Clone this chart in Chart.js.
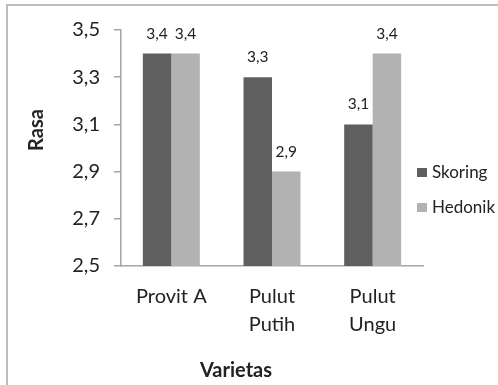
<!DOCTYPE html>
<html>
<head>
<meta charset="utf-8">
<script src="https://cdn.jsdelivr.net/npm/chart.js@4"></script>
<style>
html,body{margin:0;padding:0;background:#fff;}
#wrap{position:relative;width:498px;height:385px;}
</style>
</head>
<body>
<div id="wrap"><canvas id="c" width="498" height="385"></canvas></div>
<script>
const categories = [["Provit A"], ["Pulut", "Putih"], ["Pulut", "Ungu"]];
const seriesNames = ["Skoring", "Hedonik"];
const skoring = [3.4, 3.3, 3.1];
const hedonik = [3.4, 2.9, 3.4];
const yTickLabels = ["2,5", "2,7", "2,9", "3,1", "3,3", "3,5"];
const yTitle = "Rasa";
const xTitle = "Varietas";

const colors = ["#5f5f5f", "#b2b2b2"];
const textColor = "#222222";
const axisColor = "#a6a6a6";
const FONT = "Lato, 'Open Sans', sans-serif";

const extras = {
  id: "extras",
  afterDatasetsDraw(chart) {
    const ctx = chart.ctx;
    ctx.save();
    ctx.fillStyle = textColor;
    ctx.font = "15.5px " + FONT;
    ctx.textAlign = "center";
    ctx.textBaseline = "middle";
    chart.data.datasets.forEach((ds, di) => {
      const meta = chart.getDatasetMeta(di);
      meta.data.forEach((bar, i) => {
        ctx.fillText(String(ds.data[i]).replace(".", ","), bar.x, bar.y - 20);
      });
    });
    ctx.restore();
  },
  afterDraw(chart) {
    const ctx = chart.ctx;
    ctx.save();
    ctx.strokeStyle = "#bdbdbd";
    ctx.lineWidth = 2;
    ctx.beginPath();
    ctx.moveTo(7, 386);
    ctx.lineTo(7, 5);
    ctx.lineTo(499, 5);
    ctx.stroke();
    ctx.fillStyle = textColor;
    ctx.font = "bold 20px " + FONT;
    ctx.textAlign = "center";
    ctx.textBaseline = "middle";
    ctx.fillText(xTitle, 236, 371);
    ctx.translate(37, 130);
    ctx.rotate(-Math.PI / 2);
    ctx.fillText(yTitle, 0, 0);
    ctx.restore();
    ctx.save();
    ctx.font = "17px " + FONT;
    ctx.textBaseline = "middle";
    ctx.textAlign = "left";
    const ys = [172.5, 207.5];
    chart.data.datasets.forEach((ds, di) => {
      ctx.fillStyle = ds.backgroundColor;
      ctx.fillRect(417, ys[di] - 4.5, 10, 9);
      ctx.fillStyle = textColor;
      ctx.fillText(ds.label, 432, ys[di]);
    });
    ctx.restore();
  }
};

new Chart(document.getElementById("c"), {
  type: "bar",
  data: {
    labels: categories,
    datasets: [
      { label: seriesNames[0], data: skoring, backgroundColor: colors[0] },
      { label: seriesNames[1], data: hedonik, backgroundColor: colors[1] }
    ]
  },
  options: {
    responsive: false,
    animation: false,
    devicePixelRatio: 1,
    layout: { padding: { left: 0, right: 75, top: 30, bottom: 0 } },
    datasets: { bar: { categoryPercentage: 0.566, barPercentage: 1.0 } },
    plugins: { legend: { display: false }, tooltip: { enabled: false } },
    scales: {
      x: {
        grid: { display: true, drawOnChartArea: false, drawTicks: false, color: axisColor },
        border: { display: true, color: axisColor, width: 1.5 },
        ticks: { color: textColor, font: { family: FONT, size: 20, lineHeight: 1.4 }, padding: 17, maxRotation: 0, autoSkip: false },
        afterFit(s) { s.height = 119; }
      },
      y: {
        min: 2.5, max: 3.5,
        ticks: {
          stepSize: 0.2,
          color: textColor,
          font: { family: FONT, size: 20 },
          padding: 14,
          callback: (v, i) => yTickLabels[i]
        },
        grid: { display: true, drawOnChartArea: false, drawTicks: true, tickLength: 7, color: axisColor, lineWidth: 1.5 },
        border: { display: true, color: axisColor, width: 1.5 },
        afterFit(s) { s.width = 121; }
      }
    }
  },
  plugins: [extras]
});
</script>
</body>
</html>
